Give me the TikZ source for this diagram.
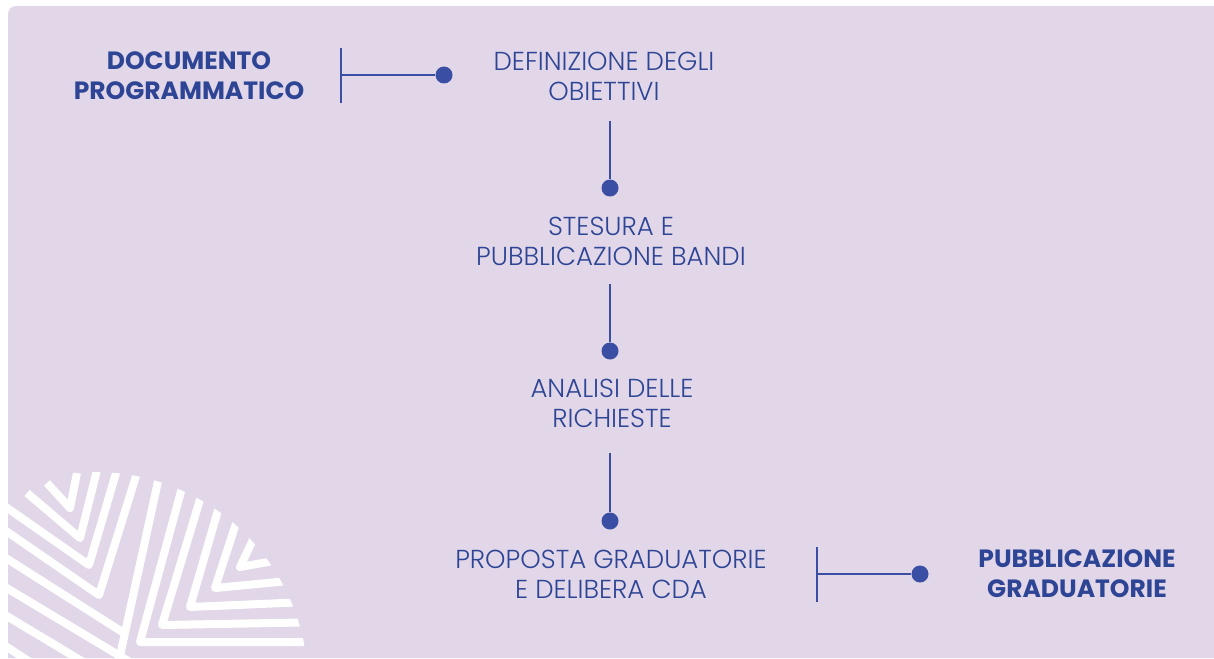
\documentclass[tikz,border=0pt]{standalone}
\usepackage{fontspec}
\setmainfont{Poppins}
\newfontfamily\lightfont{Poppins Light}
\definecolor{bg lilac}{HTML}{E2D7E9}
\definecolor{step blue}{HTML}{2D4594}
\definecolor{dot blue}{HTML}{3A4FA3}
\tikzset{
  phase/.style={align=center, text=step blue, font=\lightfont\fontsize{26}{30}\selectfont},
  milestone/.style={align=center, text=step blue, font=\fontsize{25}{30}\selectfont\bfseries},
  dot/.style={circle, fill=dot blue, inner sep=0pt, minimum size=17pt},
  link/.style={draw=dot blue, line width=1.4pt},
  stripe/.style={draw=white, line width=8pt, line join=round}
}
\begin{document}
\begin{tikzpicture}[x=1pt, y=-1pt]
  \path[use as bounding box] (0,0) rectangle (1214,658);
  \fill[bg lilac] (8,658) -- (8,14) arc[start angle=180, end angle=270, radius=8]
    -- (1214,6) -- (1214,658) -- cycle;
  % stripes in the corner
  \begin{scope}
    \clip (8,0) rectangle (1214,658);
    \clip (95,685) circle (213);
    \draw[stripe] (47,483) -- (70,508) -- (77,473);
    \draw[stripe] (27,493) -- (80,538) -- (99,462);
    \draw[stripe] (-10,496) -- (89,565) -- (121,456);
    \draw[stripe] (-10,520) -- (99,595) -- (141,460);
    \draw[stripe] (-10,548) -- (124,633);
    \draw[stripe] (-10,578) -- (135,665);
    \draw[stripe] (-10,606) -- (90,666);
    \draw[stripe] (-10,636) -- (30,662);
    \draw[stripe] (259,527) -- (240,567) -- (290,558);
    \draw[stripe] (241,508) -- (215,588) -- (320,578);
    \draw[stripe] (223,493) -- (190,607) -- (330,601);
    \draw[stripe] (205,483) -- (162,625) -- (330,622);
    \draw[stripe] (186,473) -- (140,642) -- (330,642);
    \draw[stripe] (162,463) -- (118,665) -- (330,665);
  \end{scope}
  % steps
  \node[milestone] (docprog) at (189,76) {DOCUMENTO\\PROGRAMMATICO};
  \node[phase] (defobj) at (604,76) {DEFINIZIONE DEGLI\\OBIETTIVI};
  \node[phase] (stesura) at (611,241) {STESURA E\\PUBBLICAZIONE BANDI};
  \node[phase] (analisi) at (612,403) {ANALISI DELLE\\RICHIESTE};
  \node[phase] (proposta) at (611,574) {PROPOSTA GRADUATORIE\\E DELIBERA CDA};
  \node[milestone] (pubgrad) at (1077,574) {PUBBLICAZIONE\\GRADUATORIE};
  % dots
  \node[dot] (dot1) at (444,75) {};
  \node[dot] (dot2) at (610,188) {};
  \node[dot] (dot3) at (610,351) {};
  \node[dot] (dot4) at (610,521) {};
  \node[dot] (dot5) at (920,574) {};
  % connectors
  \coordinate (bar1top) at (341,48);
  \coordinate (bar1bot) at (341,103);
  \coordinate (bar1mid) at (341,75);
  \coordinate (bar2top) at (817,547);
  \coordinate (bar2bot) at (817,602);
  \coordinate (bar2mid) at (817,574);
  \coordinate (stem2) at (610,121);
  \coordinate (stem3) at (610,284);
  \coordinate (stem4) at (610,453);
  \draw[link] (bar1top) -- (bar1bot);
  \draw[link] (bar1mid) -- (dot1);
  \draw[link] (stem2) -- (dot2);
  \draw[link] (stem3) -- (dot3);
  \draw[link] (stem4) -- (dot4);
  \draw[link] (bar2top) -- (bar2bot);
  \draw[link] (bar2mid) -- (dot5);
\end{tikzpicture}
\end{document}
